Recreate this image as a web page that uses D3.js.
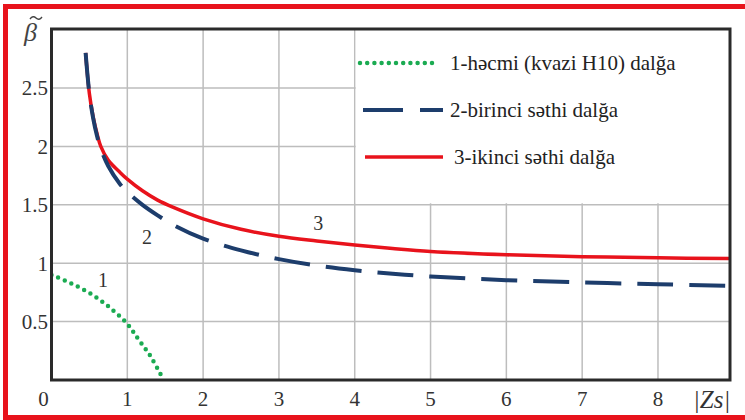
<!DOCTYPE html>
<html>
<head>
<meta charset="utf-8">
<script src="https://cdn.jsdelivr.net/npm/d3@7"></script>
<style>
  body { margin: 0; background: #fff; }
</style>
</head>
<body>
<svg id="chart" width="745" height="420"></svg>
<script>
// values
let xTicks = [0, 1, 2, 3, 4, 5, 6, 7, 8];
let yTicks = [0.5, 1, 1.5, 2, 2.5];
let yTickLabels = ['0.5', '1', '1.5', '2', '2.5'];

let wave1 = [[0, 0.9], [0.25, 0.83], [0.5, 0.745], [0.75, 0.63], [1.0, 0.48], [1.15, 0.345], [1.3, 0.21], [1.48, 0]];
let wave2 = [[0.45, 2.8], [0.5, 2.45], [0.55, 2.24], [0.6, 2.09], [0.65, 1.98], [0.75, 1.83], [0.9, 1.68], [1.0, 1.61],
  [1.2, 1.5], [1.4, 1.41], [1.6, 1.33], [2, 1.21], [2.5, 1.11], [3, 1.035], [3.5, 0.98], [4, 0.94], [4.5, 0.91],
  [5, 0.886], [6, 0.855], [7, 0.835], [8, 0.82], [8.95, 0.806]];
let wave3 = [[0.45, 2.8], [0.5, 2.45], [0.55, 2.25], [0.6, 2.11], [0.65, 2.0], [0.75, 1.88], [0.9, 1.78], [1.0, 1.72],
  [1.2, 1.62], [1.4, 1.54], [1.6, 1.48], [2, 1.38], [2.5, 1.29], [3, 1.23], [3.5, 1.19], [4, 1.155], [4.5, 1.125],
  [5, 1.1], [6, 1.072], [7, 1.056], [8, 1.046], [8.95, 1.04]];

let legendLabels = ['1-həcmi (kvazi H10) dalğa', '2-birinci səthi dalğa', '3-ikinci səthi dalğa'];
let curveLabels = [{t: '1', d: [0.68, 0.8]}, {t: '2', d: [1.26, 1.165]}, {t: '3', d: [3.52, 1.285]}];

let font = '"Liberation Serif", "DejaVu Serif", "Times New Roman", serif';

let svg = d3.select('#chart');

let sx = d3.scaleLinear().domain([0, 8.95]).range([51.5, 730]);
let sy = d3.scaleLinear().domain([0, 3.005]).range([380, 29]);

let green = '#1bab52', blue = '#1d3d6c', red = '#e8131c';

// grid
svg.append('g')
.selectAll('line')
.data(xTicks.slice(1))
.enter()
.append('line')
.attr('x1', d=>sx(d)).attr('x2', d=>sx(d))
.attr('y1', sy.range()[0]).attr('y2', sy.range()[1])
.attr('stroke', '#bdbdbd').attr('stroke-width', 1.5);

svg.append('g')
.selectAll('line')
.data(yTicks)
.enter()
.append('line')
.attr('x1', sx.range()[0]).attr('x2', sx.range()[1])
.attr('y1', d=>sy(d)).attr('y2', d=>sy(d))
.attr('stroke', '#bdbdbd').attr('stroke-width', 1.5);

// legend box covers the grid
svg.append('rect')
.attr('x', sx(4) + 1).attr('y', sy.range()[1])
.attr('width', sx.range()[1] - sx(4) - 1)
.attr('height', sy(1.5) - sy.range()[1] - 1.5)
.attr('fill', '#fff');

svg.append('clipPath').attr('id', 'clip')
.append('rect')
.attr('x', sx.range()[0]).attr('y', sy.range()[1])
.attr('width', sx.range()[1] - sx.range()[0])
.attr('height', sy.range()[0] - sy.range()[1]);

let line = d3.line()
.x(d=>sx(d[0]))
.y(d=>sy(d[1]))
.curve(d3.curveCatmullRom.alpha(0.5));

let plot = svg.append('g').attr('clip-path', 'url(#clip)');

plot.append('path')
.attr('d', line(wave3))
.attr('fill', 'none').attr('stroke', red).attr('stroke-width', 3.5);

plot.append('path')
.attr('d', line(wave2))
.attr('fill', 'none').attr('stroke', blue).attr('stroke-width', 4)
.attr('stroke-dasharray', '36 16');

plot.append('path')
.attr('d', line(wave1))
.attr('fill', 'none').attr('stroke', green).attr('stroke-width', 4.5)
.attr('stroke-linecap', 'round')
.attr('stroke-dasharray', '0 7.2');

// frame
svg.append('rect')
.attr('x', sx.range()[0]).attr('y', sy.range()[1])
.attr('width', sx.range()[1] - sx.range()[0])
.attr('height', sy.range()[0] - sy.range()[1])
.attr('fill', 'none').attr('stroke', '#2a2a2a').attr('stroke-width', 3);

// tick labels
svg.append('g')
.selectAll('text')
.data(xTicks)
.enter()
.append('text')
.attr('x', d=>d==0 ? sx(d) - 8 : sx(d))
.attr('y', 406)
.attr('text-anchor', 'middle')
.attr('font-family', font).attr('font-size', 21).attr('fill', '#333')
.text(d=>d);

svg.append('g')
.selectAll('text')
.data(yTicks)
.enter()
.append('text')
.attr('x', 48)
.attr('y', d=>sy(d) + 7.5)
.attr('text-anchor', 'end')
.attr('font-family', font).attr('font-size', 21).attr('fill', '#333')
.text((d,i)=>yTickLabels[i]);

// axis titles
svg.append('text')
.attr('x', 24).attr('y', 41)
.attr('font-family', font).attr('font-size', 26).attr('font-style', 'italic').attr('fill', '#444')
.text('β');
svg.append('path')
.attr('d', 'M30,19 q3,-4 6,-1 t6,-1')
.attr('fill', 'none').attr('stroke', '#444').attr('stroke-width', 1.4);

svg.append('text')
.attr('x', 693).attr('y', 408)
.attr('font-family', font).attr('font-size', 25).attr('font-style', 'italic').attr('fill', '#333')
.text('|Zs|');

// curve numbers
svg.append('g')
.selectAll('text')
.data(curveLabels)
.enter()
.append('text')
.attr('x', d=>sx(d.d[0])).attr('y', d=>sy(d.d[1]))
.attr('text-anchor', 'middle')
.attr('font-family', font).attr('font-size', 20).attr('fill', '#333')
.text(d=>d.t);

// legend
let legend = svg.append('g');
let legendY = [63, 110, 157];

legend.append('line')
.attr('x1', 360).attr('x2', 435).attr('y1', legendY[0]).attr('y2', legendY[0])
.attr('stroke', green).attr('stroke-width', 4.5)
.attr('stroke-linecap', 'round').attr('stroke-dasharray', '0 7.2');

legend.append('line')
.attr('x1', 363).attr('x2', 443).attr('y1', legendY[1]).attr('y2', legendY[1])
.attr('stroke', blue).attr('stroke-width', 4)
.attr('stroke-dasharray', '40 17');

legend.append('line')
.attr('x1', 365).attr('x2', 443).attr('y1', legendY[2]).attr('y2', legendY[2])
.attr('stroke', red).attr('stroke-width', 3.5);

legend.selectAll('text')
.data(legendLabels)
.enter()
.append('text')
.attr('x', (d,i)=>i==2 ? 454 : 450)
.attr('y', (d,i)=>legendY[i] + 7)
.attr('font-family', font).attr('font-size', 21).attr('fill', '#222')
.text(d=>d);

// red border (top, left, bottom)
let border = red;
svg.append('line').attr('x1', 3).attr('x2', 745).attr('y1', 6.5).attr('y2', 6.5)
.attr('stroke', border).attr('stroke-width', 5);
svg.append('line').attr('x1', 5.5).attr('x2', 5.5).attr('y1', 4).attr('y2', 420)
.attr('stroke', border).attr('stroke-width', 5);
svg.append('line').attr('x1', 3).attr('x2', 745).attr('y1', 417.5).attr('y2', 417.5)
.attr('stroke', border).attr('stroke-width', 5);
</script>
</body>
</html>
